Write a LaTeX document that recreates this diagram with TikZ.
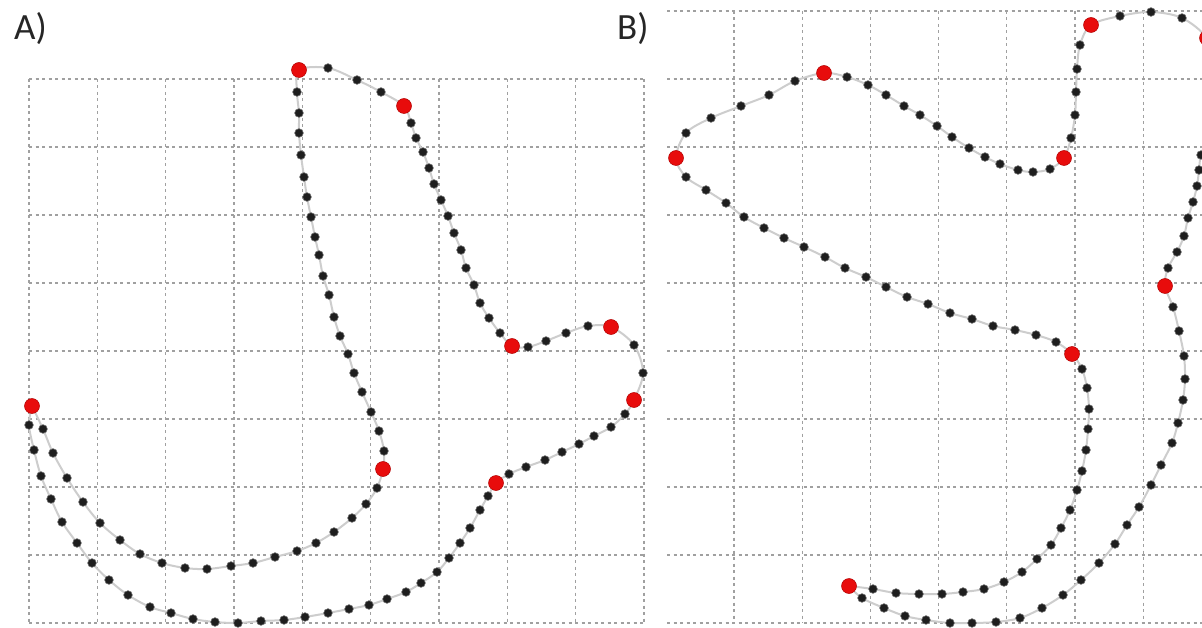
\documentclass[tikz,border=0pt]{standalone}
\usepackage{fontspec}
\newfontfamily\labelfont{Carlito}
\definecolor{gridgray}{RGB}{160,160,160}
\definecolor{curvegray}{RGB}{205,205,205}
\definecolor{dotblack}{RGB}{30,30,30}
\definecolor{ptred}{RGB}{232,12,12}
\begin{document}
\begin{tikzpicture}[x=1pt,y=-1pt,
  gridline/.style={draw=gridgray,line width=1.1pt,dash pattern=on 3pt off 3.5pt},
  curve/.style={draw=curvegray,line width=2pt,
     mark=*,mark size=4.3pt,
     mark options={solid,fill=dotblack,draw=black!60,line width=0.6pt}},
  redpt/.style={fill=ptred,draw=red!70!black,line width=0.5pt},
  panellabel/.style={anchor=base west,inner sep=0pt,text=black!85,
     font=\labelfont\fontsize{37}{40}\selectfont}]
\useasboundingbox (0,0) rectangle (1202,628);
\fill[white] (0,0) rectangle (1202,628);
\clip (0,0) rectangle (1202,628);

% ---------- grids ----------
\foreach \k in {0,...,9} \draw[gridline] ({29+68.33*\k},79) -- ({29+68.33*\k},623);
\foreach \k in {0,...,8} \draw[gridline] (29,{79+68*\k}) -- (644,{79+68*\k});
\foreach \k in {0,...,7} \draw[gridline] ({734+68.2*\k},11) -- ({734+68.2*\k},623);
\foreach \k in {0,...,9} \draw[gridline] (667,{11+68*\k}) -- (1202,{11+68*\k});

% ---------- labels ----------
\node[panellabel] (labA) at (14,40) {A)};
\node[panellabel] (labB) at (617,40) {B)};

% ---------- control points ----------
\coordinate (a1) at (299,70);
\coordinate (a2) at (404,106);
\coordinate (a3) at (512,346);
\coordinate (a4) at (611,327);
\coordinate (a5) at (634,400);
\coordinate (a6) at (496,483);
\coordinate (a7) at (32,406);
\coordinate (a8) at (383,469);

\coordinate (b1) at (849,586);
\coordinate (b2) at (1072,354);
\coordinate (b3) at (676,158);
\coordinate (b4) at (824,73);
\coordinate (b5) at (1064,158);
\coordinate (b6) at (1091,25);
\coordinate (b7) at (1207,38);
\coordinate (b8) at (1165,286);

% ---------- curve A ----------
\draw[curve] plot[smooth,tension=0.55] coordinates {
 (a7) (43,429) (53,453) (67,478) (83,502) (100,523) (120,540) (140,554)
 (162,563) (185,568) (207,569) (231,566) (253,563) (275,557) (297,551)
 (316,543) (334,532) (352,518) (366,504) (377,488) (a8)
 (384,451) (379,431) (371,412) (362,392) (354,373) (348,354) (340,336)
 (334,317) (329,295) (323,276) (319,255) (315,237) (311,217) (307,197)
 (304,177) (301,155) (299,133) (299,113) (297,92) (a1)
 (328,68) (357,80) (381,92) (a2)
 (411,123) (416,138) (423,152) (429,168) (434,184) (441,200) (448,216)
 (454,233) (461,250) (466,268) (474,285) (480,303) (489,318) (500,333) (a3)
 (528,347) (546,341) (566,333) (588,326) (a4)
 (634,345) (643,373) (a5)
 (625,414) (611,427) (594,436) (579,444) (562,452) (545,460) (526,467)
 (509,474) (a6)
 (488,496) (480,510) (470,528) (460,543) (449,558) (437,572) (421,583)
 (406,592) (387,599) (369,605) (349,609) (328,613) (305,617) (284,620)
 (261,621) (238,623) (215,622) (193,619) (171,613) (150,607) (128,595)
 (109,580) (92,563) (77,543) (62,522) (51,499) (41,476) (34,450) (29,425) (a7)};

% ---------- curve B ----------
\draw[curve] plot[smooth,tension=0.55] coordinates {
 (b1) (873,589) (896,593) (919,594) (942,594) (963,592) (984,589) (1004,582)
 (1022,572) (1037,559) (1051,545) (1061,528) (1070,510) (1077,490) (1082,471)
 (1086,450) (1088,429) (1089,409) (1087,388) (1082,369) (b2)
 (1056,342) (1036,335) (1015,330) (993,326) (972,319) (950,313) (928,304)
 (907,297) (886,287) (866,277) (845,268) (825,257) (804,247) (784,238)
 (764,228) (744,217) (726,203) (706,190) (686,177) (b3)
 (686,133) (711,118) (741,106) (769,95) (795,81) (b4)
 (847,77) (868,85) (886,95) (904,106) (920,115) (937,126) (952,137) (969,148)
 (985,157) (1000,164) (1018,170) (1033,172) (1050,169) (b5)
 (1071,138) (1075,115) (1076,92) (1077,69) (1080,45) (b6)
 (1120,16) (1151,12) (1182,18) (b7)
 (1216,64) (1217,98) (1210,130) (1201,155) (1199,170) (1197,186) (1193,202)
 (1188,218) (1184,236) (1177,252) (1168,268) (b8)
 (1173,307) (1179,331) (1184,356) (1185,379) (1183,400) (1178,423) (1172,443)
 (1161,465) (1151,485) (1139,507) (1127,525) (1115,544) (1099,563) (1081,580)
 (1063,595) (1042,608) (1020,618) (996,622) (972,623) (950,623) (926,620)
 (905,616) (884,608) (862,598) (b1)};

% ---------- red points ----------
\foreach \p in {a1,a2,a3,a4,a5,a6,a7,a8,b1,b2,b3,b4,b5,b6,b7,b8}
  \filldraw[redpt] (\p) circle[radius=7.5pt];
\end{tikzpicture}
\end{document}
